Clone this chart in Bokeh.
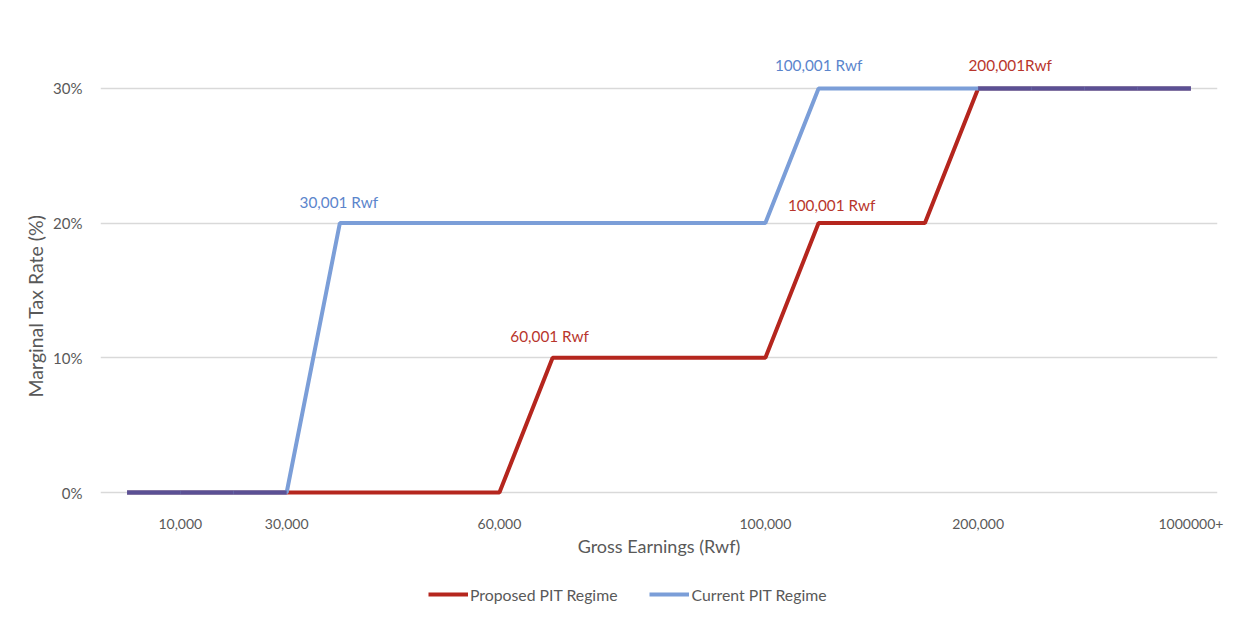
from bokeh.plotting import figure
from bokeh.layouts import column
from bokeh.models import (FixedTicker, Range1d, Label, Legend, LegendItem, Title)
from bokeh.embed import file_html
from bokeh.resources import INLINE

# ---- data ----
categories = list(range(21))
tick_positions = [1, 3, 7, 12, 16, 20]
tick_labels = ["10,000", "30,000", "60,000", "100,000", "200,000", "1000000+"]
current_rate = [0, 0, 0, 0, 0.2, 0.2, 0.2, 0.2, 0.2, 0.2, 0.2, 0.2, 0.2,
                0.3, 0.3, 0.3, 0.3, 0.3, 0.3, 0.3, 0.3]
proposed_rate = [0, 0, 0, 0, 0, 0, 0, 0, 0.1, 0.1, 0.1, 0.1, 0.1,
                 0.2, 0.2, 0.2, 0.3, 0.3, 0.3, 0.3, 0.3]
y_ticks = [0, 0.1, 0.2, 0.3]
ann_text = ["30,001 Rwf", "100,001 Rwf", "60,001 Rwf", "100,001 Rwf", "200,001Rwf"]
ann_x = [4, 13, 8, 13, 16]
ann_y = [0.2, 0.3, 0.1, 0.2, 0.3]
ann_series = ["current", "current", "proposed", "proposed", "proposed"]
series_names = ["Proposed PIT Regime", "Current PIT Regime"]

# ---- styles ----
RED = "#b5261e"
BLUE = "#7b9ed8"
BLUE_TXT = "#5b85cc"
RED_TXT = "#b8352c"
PURPLE = "#5b5094"
GREY = "#595959"
FONT = "Lato"

p = figure(width=1250, height=570, output_backend="svg", toolbar_location=None,
           x_range=Range1d(-0.5, 20.5), y_range=Range1d(-4 / 1347, 452 / 1347),
           min_border_left=100, min_border_right=33, min_border_top=40,
           min_border_bottom=74)
p.outline_line_color = None
p.background_fill_color = "white"
p.border_fill_color = "white"

# axes
p.xaxis.ticker = FixedTicker(ticks=tick_positions)
p.xaxis.major_label_overrides = {k: v for k, v in zip(tick_positions, tick_labels)}
p.xaxis.axis_line_color = None
p.xaxis.major_tick_line_color = None
p.xaxis.minor_tick_line_color = None
p.xaxis.major_label_standoff = 16
p.xaxis.major_label_text_font = FONT
p.xaxis.major_label_text_font_size = "14px"
p.xaxis.major_label_text_color = GREY
p.xaxis.axis_label = "Gross Earnings (Rwf)"
p.xaxis.axis_label_text_font = FONT
p.xaxis.axis_label_text_font_size = "18px"
p.xaxis.axis_label_text_font_style = "normal"
p.xaxis.axis_label_text_color = GREY
p.xaxis.axis_label_standoff = 3

p.yaxis.ticker = FixedTicker(ticks=y_ticks)
p.yaxis.major_label_overrides = {t: f"{int(round(t * 100))}%" for t in y_ticks}
p.yaxis.axis_line_color = None
p.yaxis.major_tick_line_color = None
p.yaxis.minor_tick_line_color = None
p.yaxis.major_label_standoff = 12
p.yaxis.major_label_text_font = FONT
p.yaxis.major_label_text_font_size = "15px"
p.yaxis.major_label_text_color = GREY

p.xgrid.grid_line_color = None
p.ygrid.ticker = FixedTicker(ticks=y_ticks)
p.ygrid.grid_line_color = "#d9d9d9"
p.ygrid.grid_line_width = 1.3

# lines
p.line(categories, proposed_rate, line_color=RED, line_width=4)
p.line(categories, current_rate, line_color=BLUE, line_width=4)

# overlapping segments (where both series coincide)
ox0, ox1, oy0, oy1 = [], [], [], []
for i in range(len(categories) - 1):
    if current_rate[i] == proposed_rate[i] and current_rate[i + 1] == proposed_rate[i + 1]:
        ox0.append(categories[i]); ox1.append(categories[i + 1])
        oy0.append(current_rate[i]); oy1.append(current_rate[i + 1])
p.segment(ox0, oy0, ox1, oy1, line_color=PURPLE, line_width=4)

# annotations
x_offs = [-1, 0, -3, 13, 32]
y_offs = [21, 23, 22, 18, 23]
for t, x, y, s, dx, dy in zip(ann_text, ann_x, ann_y, ann_series, x_offs, y_offs):
    p.add_layout(Label(x=x, y=y, text=t, x_offset=dx, y_offset=dy,
                       text_align="center", text_baseline="middle",
                       text_font=FONT, text_font_size="15.3px",
                       text_color=(BLUE_TXT if s == "current" else RED_TXT)))

# y axis title (offset so it sits where the reference has it)
ytitle = Title(text="Marginal Tax Rate (%)", align="left", offset=99,
               text_font=FONT, text_font_size="19.5px", text_font_style="normal",
               text_color=GREY, standoff=8)
p.add_layout(ytitle, "left")

# legend strip below the chart (its lines lie outside the strip's visible range,
# so only the legend swatches show)
q = figure(width=1250, height=52, output_backend="svg", toolbar_location=None,
           x_range=Range1d(100, 101), y_range=Range1d(0, 1),
           x_axis_type=None, y_axis_type=None,
           min_border_left=0, min_border_right=0, min_border_top=0,
           min_border_bottom=0)
q.outline_line_color = None
q.xgrid.grid_line_color = None
q.ygrid.grid_line_color = None
lr_prop = q.line(categories, proposed_rate, line_color=RED, line_width=4)
lr_cur = q.line(categories, current_rate, line_color=BLUE, line_width=4)
legend = Legend(items=[LegendItem(label=series_names[0], renderers=[lr_prop]),
                       LegendItem(label=series_names[1], renderers=[lr_cur])],
                orientation="horizontal", location=(328, 18),
                glyph_width=40, glyph_height=20, label_height=20,
                label_standoff=2, spacing=32,
                padding=0, margin=0, border_line_color=None,
                background_fill_alpha=0,
                label_text_font=FONT, label_text_font_size="15.8px",
                label_text_color=GREY)
q.add_layout(legend, "center")

layout = column(p, q, spacing=0)
open("out.html", "w").write(file_html(layout, INLINE))
